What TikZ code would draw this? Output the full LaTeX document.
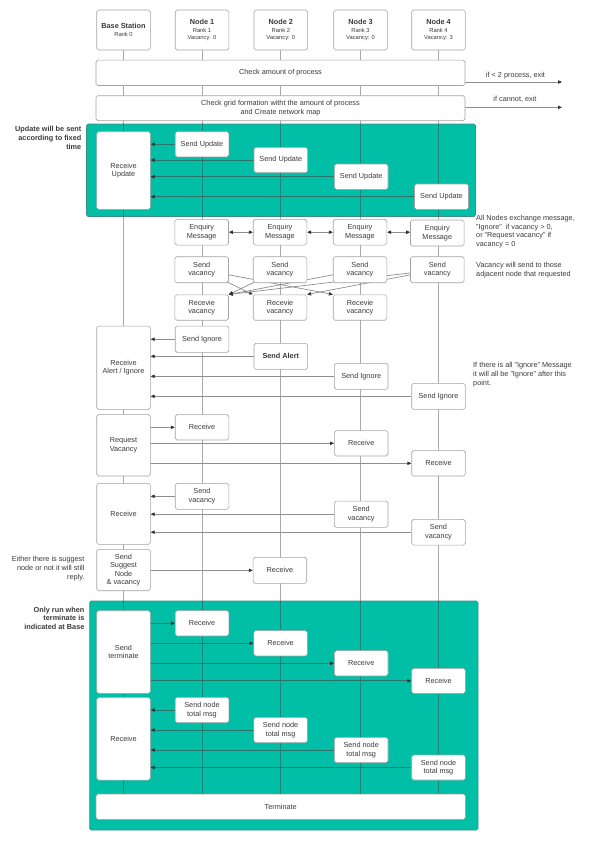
\documentclass[tikz,border=0pt]{standalone}
\usepackage{fontspec}
\setmainfont{Liberation Sans}
\usetikzlibrary{arrows.meta}

\definecolor{tealbg}{HTML}{00BFA6}
\definecolor{tealedge}{HTML}{3F8E83}
\definecolor{edge}{HTML}{A3A3A3}
\definecolor{ink}{HTML}{3A3A3A}
\definecolor{lifec}{HTML}{404040}
\definecolor{wire}{HTML}{8E8E8E}
\definecolor{wireT}{HTML}{2A7468}
\definecolor{tipc}{HTML}{333333}

\pgfdeclarelayer{bg}
\pgfdeclarelayer{wires}
\pgfsetlayers{bg,wires,main}

\newcommand{\headtitle}[1]{{\fontsize{7.3}{8.5}\selectfont\bfseries #1}}

\tikzset{
  txt/.style={font=\fontsize{7.3}{8.5}\selectfont, text=ink},
  box/.style={draw=edge, fill=white, rounded corners=1.8pt, line width=0.6pt,
              txt, align=center, inner sep=1pt, minimum width=53.6pt, minimum height=25.4pt},
  wide/.style={box, minimum width=369pt},
  hdr/.style={box, minimum height=40pt, font=\fontsize{5.8}{7.5}\selectfont},
  panel/.style={draw=tealedge, fill=tealbg, line width=0.6pt, rounded corners=1.5pt, inner sep=0pt},
  life/.style={draw=lifec, draw opacity=0.45, line width=0.7pt},
  msg/.style={draw=wire, line width=0.7pt, arrows={-Triangle[length=4pt,width=3.4pt,color=tipc]}},
  msgT/.style={draw=wireT, line width=0.7pt, arrows={-Triangle[length=4pt,width=3.4pt,color=tipc]}},
  two/.style={draw=wire, line width=0.7pt,
              arrows={Triangle[length=4pt,width=3.4pt,color=tipc]-Triangle[length=4pt,width=3.4pt,color=tipc]}},
  note/.style={font=\fontsize{7.3}{8.8}\selectfont, text=ink, inner sep=0pt},
}

\begin{document}
\begin{tikzpicture}[x=1pt,y=-1pt]
\useasboundingbox (0,0) rectangle (602,841);

% ---------- lifeline heads ----------
\node[hdr] (h0) at (123.5,30) {\headtitle{Base Station}\\Rank 0};
\node[hdr] (h1) at (202,30) {\headtitle{Node 1}\\Rank 1\\Vacancy: 0};
\node[hdr] (h2) at (280.8,30) {\headtitle{Node 2}\\Rank 2\\Vacancy: 0};
\node[hdr] (h3) at (360.5,30) {\headtitle{Node 3}\\Rank 3\\Vacancy: 0};
\node[hdr] (h4) at (438.5,30) {\headtitle{Node 4}\\Rank 4\\Vacancy: 3};

% ---------- setup checks ----------
\node[wide] (chk) at (280.5,72.8) {Check amount of process};
\node[wide, minimum height=25pt] (grid) at (280.5,108.2) {Check grid formation witht the amount of process\\and Create network map};
\coordinate (exit1) at (562,82);
\coordinate (exit2) at (562,107.3);
\node[note] (lx1) at (515.5,76) {if < 2 process, exit};
\node[note] (lx2) at (515,99.3) {if cannot, exit};

% ---------- periodic updates ----------
\begin{pgfonlayer}{bg}
\node[panel, minimum width=389pt, minimum height=92.5pt] (pupd) at (281,170.25) {};
\node[panel, minimum width=388.4pt, minimum height=229pt] (pfin) at (283.8,715.5) {};
\end{pgfonlayer}
\node[note, font=\bfseries\fontsize{7.3}{8.8}\selectfont, align=right, anchor=north east] (nupd) at (81.5,126.5)
  {Update will be sent\\according to fixed\\time};
\node[box, minimum height=77.6pt] (ru) at (123.5,170.5) {Receive\\Update};
\node[box] (su1) at (202,144.2) {Send Update};
\node[box] (su2) at (280.8,160) {Send Update};
\node[box] (su3) at (361.2,176.7) {Send Update};
\node[box, minimum width=54pt] (su4) at (441.5,196.7) {Send Update};

% ---------- enquiry exchange ----------
\node[box, minimum height=25.7pt] (eq1) at (201.7,232.2) {Enquiry\\Message};
\node[box, minimum height=25.7pt] (eq2) at (280,232.2) {Enquiry\\Message};
\node[box, minimum height=25.7pt] (eq3) at (360,232.2) {Enquiry\\Message};
\node[box, minimum height=26pt] (eq4) at (437.3,233) {Enquiry\\Message};
\node[note, align=left, anchor=north west] (nenq) at (476,214.8)
  {All Nodes exchange message,\\"Ignore"\ \ if vacancy > 0,\\or "Request vacancy" if\\vacancy = 0};

\node[box, minimum height=26pt] (sv1) at (201.7,269.7) {Send\\vacancy};
\node[box, minimum height=26pt] (sv2) at (280,269.7) {Send\\vacancy};
\node[box, minimum height=26pt] (sv3) at (360,269.7) {Send\\vacancy};
\node[box, minimum height=26pt] (sv4) at (437.3,269.7) {Send\\vacancy};
\node[note, align=left, anchor=north west] (nvac) at (476,262.5)
  {Vacancy will send to those\\adjacent node that requested};

\node[box] (rv1) at (201.7,307.5) {Recevie\\vacancy};
\node[box] (rv2) at (280,307.5) {Recevie\\vacancy};
\node[box] (rv3) at (360,307.5) {Recevie\\vacancy};

% ---------- alert / ignore ----------
\node[box, minimum height=83.3pt] (rai) at (123.5,367.7) {Receive\\Alert / Ignore};
\node[box, minimum height=26.3pt] (si1) at (202,339.2) {Send Ignore};
\node[box, minimum height=26pt, font=\bfseries\fontsize{7.3}{8.5}\selectfont] (sal) at (280.8,356.3) {Send Alert};
\node[box, minimum height=26pt] (si3) at (361.2,376.3) {Send Ignore};
\node[box, minimum height=26pt] (si4) at (438.5,396.3) {Send Ignore};
\node[note, align=left, anchor=north west] (nign) at (473,362.3)
  {If there is all "Ignore" Message\\it will all be "Ignore" after this\\point.};

% ---------- vacancy request ----------
\node[box, minimum height=61.3pt] (rq) at (123.5,445.3) {Request\\Vacancy};
\node[box, minimum height=25.3pt] (rc1) at (202,427.3) {Receive};
\node[box, minimum height=25.3pt] (rc3) at (361.2,443.3) {Receive};
\node[box, minimum height=25.3pt] (rc4) at (438.5,463.3) {Receive};

\node[box, minimum height=61pt] (rb) at (123.5,513.8) {Receive};
\node[box, minimum height=26pt] (sw1) at (202,496.3) {Send\\vacancy};
\node[box, minimum height=26.3pt] (sw3) at (361.2,514.2) {Send\\vacancy};
\node[box, minimum height=25.7pt] (sw4) at (438.5,532.2) {Send\\vacancy};

\node[box, minimum height=41.4pt] (sg) at (123.5,570) {Send\\Suggest\\Node\\\& vacancy};
\node[box, minimum height=26pt] (rc2) at (279.9,570.3) {Receive};
\node[note, align=right, anchor=north east] (nsug) at (84.6,556)
  {Either there is suggest\\node or not it will still\\reply.};

% ---------- termination ----------
\node[note, font=\bfseries\fontsize{7.3}{8.8}\selectfont, align=right, anchor=north east] (nfin) at (84.6,606.6)
  {Only run when\\terminate is\\indicated at Base};
\node[box, minimum height=82.6pt] (st) at (123.5,652) {Send\\terminate};
\node[box, minimum height=25.3pt] (rt1) at (202,623.3) {Receive};
\node[box, minimum height=25.3pt] (rt2) at (280.6,643.3) {Receive};
\node[box, minimum height=25.3pt] (rt3) at (361.2,663.3) {Receive};
\node[box, minimum height=25pt] (rt4) at (438.5,680.8) {Receive};

\node[box, minimum height=82.7pt] (rn) at (123.5,738.7) {Receive};
\node[box, minimum height=25.4pt] (tm1) at (202,710) {Send node\\total msg};
\node[box, minimum height=25.4pt] (tm2) at (280.6,730) {Send node\\total msg};
\node[box, minimum height=25.4pt] (tm3) at (361.2,750) {Send node\\total msg};
\node[box, minimum height=25pt] (tm4) at (438.5,767.5) {Send node\\total msg};

\node[wide, minimum height=25.3pt, minimum width=369.4pt] (term) at (280.7,806.7) {Terminate};

% ---------- lifelines and messages ----------
\begin{pgfonlayer}{wires}
\foreach \n in {h0,h1,h2,h3,h4}
  \draw[life] (\n.south) -- (\n.south |- term.north);

\draw[msg] (chk.east |- exit1) -- (exit1);
\draw[msg] (grid.east |- exit2) -- (exit2);

\foreach \s in {su1,su2,su3,su4}
  \draw[msgT] (\s.west) -- (ru.east |- \s.west);

\draw[two] (eq1.east) -- (eq2.west);
\draw[two] (eq2.east) -- (eq3.west);
\draw[two] (eq3.east) -- (eq3.east -| eq4.west);

\draw[msg] (sv1.center) -- (rv2.north west);
\draw[msg] (sv1.center) -- (rv3.north west);
\draw[msg] (sv2.center) -- (rv1.north east);
\draw[msg] (sv3.center) -- (rv1.north east);
\draw[msg] (sv4.center) -- (rv1.north east);
\draw[msg] (sv4.center) -- (rv2.north east);

\foreach \s in {si1,sal,si3,si4}
  \draw[msg] (\s.west) -- (rai.east |- \s.west);

\foreach \r in {rc1,rc3,rc4}
  \draw[msg] (rq.east |- \r.west) -- (\r.west);

\foreach \s in {sw1,sw3,sw4}
  \draw[msg] (\s.west) -- (rb.east |- \s.west);

\draw[msg] (sg.east |- rc2.west) -- (rc2.west);

\foreach \r in {rt1,rt2,rt3,rt4}
  \draw[msgT] (st.east |- \r.west) -- (\r.west);

\foreach \s in {tm1,tm2,tm3,tm4}
  \draw[msgT] (\s.west) -- (rn.east |- \s.west);
\end{pgfonlayer}
\end{tikzpicture}
\end{document}
